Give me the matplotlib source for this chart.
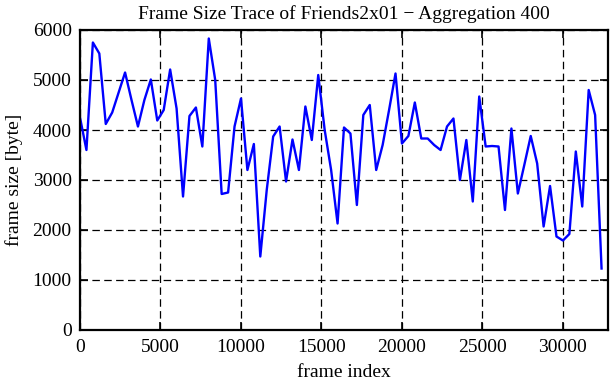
import numpy as np
import matplotlib
matplotlib.use("Agg")
import matplotlib.pyplot as plt

# aggregated frame size trace (one point every 400 frames)
agg = 400
frame_size = [4250, 3600, 5750, 5530, 4120, 4350, 4750, 5150, 4600, 4070,
              4600, 5010, 4190, 4400, 5210, 4430, 2670, 4280, 4450, 3670,
              5830, 5000, 2720, 2750, 4070, 4630, 3200, 3720, 1470, 2800,
              3870, 4070, 2970, 3810, 3200, 4470, 3800, 5100, 4000, 3200,
              2130, 4050, 3930, 2500, 4300, 4500, 3200, 3700, 4400, 5130,
              3730, 3880, 4550, 3830, 3830, 3700, 3600, 4070, 4230, 3000,
              3800, 2570, 4670, 3670, 3680, 3670, 2400, 4030, 2730, 3300,
              3880, 3330, 2070, 2880, 1870, 1790, 1920, 3570, 2470, 4800,
              4300, 1230]
frame_index = np.arange(len(frame_size)) * agg

x_ticks = [0, 5000, 10000, 15000, 20000, 25000, 30000]
y_ticks = [0, 1000, 2000, 3000, 4000, 5000, 6000]

plt.rcParams['font.family'] = ['Liberation Serif', 'DejaVu Serif']
plt.rcParams['font.size'] = 14

fig = plt.figure(figsize=(6.11, 3.80), dpi=100)
ax = fig.add_axes([80/611, 50/380, 528/611, 300/380])

ax.plot(frame_index, frame_size, color='#0000ff', lw=1.7)

ax.set_xlim(0, 32800)
ax.set_ylim(0, 6000)
ax.set_xticks(x_ticks)
ax.set_yticks(y_ticks)
ax.grid(True, color='black', lw=0.9, linestyle=(0, (6, 3.5)))
ax.tick_params(direction='in', length=6, width=1.2, top=True, right=True, pad=6)
ax.tick_params(axis='x', pad=6.5)
for s in ax.spines.values():
    s.set_linewidth(1.6)

ax.set_title("Frame Size Trace of Friends2x01 \u2212 Aggregation 400",
             fontsize=14, pad=8)
ax.set_xlabel("frame index", labelpad=6)
ax.set_ylabel("frame size [byte]", labelpad=7)

fig.savefig("out.png", dpi=100)
